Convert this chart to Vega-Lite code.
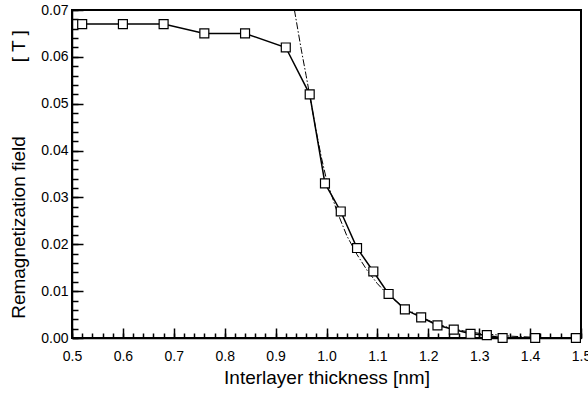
{
  "$schema": "https://vega.github.io/schema/vega-lite/v6.json",
  "width": 509,
  "height": 328,
  "autosize": "none",
  "padding": {"left": 72, "top": 10, "right": 7, "bottom": 55},
  "background": "white",
  "config": {
    "view": {"stroke": "black", "strokeWidth": 2},
    "font": "Liberation Sans",
    "axis": {
      "grid": false,
      "domainColor": "black",
      "domainWidth": 1.5,
      "tickColor": "black",
      "tickWidth": 1.5,
      "labelColor": "black",
      "titleColor": "black",
      "labelFontSize": 14,
      "titleFontSize": 19,
      "titleFontWeight": "normal",
      "labelFlush": false,
      "labelOverlap": false
    }
  },
  "datasets": {
    "pts": [
      {"t": 0.52, "h": 0.067},
      {"t": 0.60, "h": 0.067},
      {"t": 0.68, "h": 0.067},
      {"t": 0.76, "h": 0.065},
      {"t": 0.84, "h": 0.065},
      {"t": 0.92, "h": 0.062},
      {"t": 0.967, "h": 0.052},
      {"t": 0.997, "h": 0.033},
      {"t": 1.028, "h": 0.027},
      {"t": 1.06, "h": 0.0192},
      {"t": 1.092, "h": 0.0142},
      {"t": 1.122, "h": 0.0094},
      {"t": 1.154, "h": 0.0061},
      {"t": 1.186, "h": 0.0044},
      {"t": 1.218, "h": 0.0027},
      {"t": 1.25, "h": 0.0018},
      {"t": 1.283, "h": 0.0009},
      {"t": 1.315, "h": 0.0006},
      {"t": 1.346, "h": 0.0},
      {"t": 1.41, "h": 0.0},
      {"t": 1.49, "h": 0.0}
    ],
    "fit": [
      {"t": 0.937, "h": 0.0700},
      {"t": 0.95, "h": 0.0618},
      {"t": 0.96, "h": 0.0560},
      {"t": 0.97, "h": 0.0500},
      {"t": 0.98, "h": 0.0440},
      {"t": 0.99, "h": 0.0385},
      {"t": 1.00, "h": 0.0338},
      {"t": 1.02, "h": 0.0272},
      {"t": 1.04, "h": 0.0218},
      {"t": 1.06, "h": 0.0178},
      {"t": 1.08, "h": 0.0144},
      {"t": 1.10, "h": 0.0116},
      {"t": 1.12, "h": 0.0093},
      {"t": 1.15, "h": 0.0067},
      {"t": 1.18, "h": 0.0048},
      {"t": 1.21, "h": 0.0033},
      {"t": 1.24, "h": 0.0022},
      {"t": 1.27, "h": 0.0015},
      {"t": 1.30, "h": 0.0010},
      {"t": 1.33, "h": 0.0007},
      {"t": 1.36, "h": 0.0004},
      {"t": 1.40, "h": 0.0002}
    ]
  },
  "resolve": {"axis": {"x": "independent", "y": "independent"}},
  "layer": [
    {
      "data": {"name": "fit"},
      "mark": {"type": "line", "stroke": "black", "strokeWidth": 1, "strokeDash": [7, 2, 1.5, 2], "clip": true},
      "encoding": {
        "x": {
          "field": "t", "type": "quantitative",
          "scale": {"domain": [0.5, 1.5], "nice": false, "zero": false},
          "axis": {
            "orient": "bottom", "title": null, "labels": false, "domain": false,
            "values": [0.5, 0.52, 0.54, 0.56, 0.58, 0.6, 0.62, 0.64, 0.66, 0.68, 0.7, 0.72, 0.74, 0.76, 0.78, 0.8, 0.82, 0.84, 0.86, 0.88, 0.9, 0.92, 0.94, 0.96, 0.98, 1.0, 1.02, 1.04, 1.06, 1.08, 1.1, 1.12, 1.14, 1.16, 1.18, 1.2, 1.22, 1.24, 1.26, 1.28, 1.3, 1.32, 1.34, 1.36, 1.38, 1.4, 1.42, 1.44, 1.46, 1.48, 1.5],
            "tickSize": -5
          }
        },
        "y": {
          "field": "h", "type": "quantitative",
          "scale": {"domain": [0, 0.07], "nice": false},
          "axis": {
            "orient": "left", "title": null, "labels": false, "domain": false,
            "values": [0, 0.002, 0.004, 0.006, 0.008, 0.01, 0.012, 0.014, 0.016, 0.018, 0.02, 0.022, 0.024, 0.026, 0.028, 0.03, 0.032, 0.034, 0.036, 0.038, 0.04, 0.042, 0.044, 0.046, 0.048, 0.05, 0.052, 0.054, 0.056, 0.058, 0.06, 0.062, 0.064, 0.066, 0.068, 0.07],
            "tickSize": -6
          }
        }
      }
    },
    {
      "data": {"name": "pts"},
      "mark": {"type": "line", "stroke": "black", "strokeWidth": 1.5},
      "encoding": {
        "x": {
          "field": "t", "type": "quantitative",
          "axis": {
            "orient": "bottom",
            "title": "Interlayer thickness [nm]",
            "values": [0.5, 0.6, 0.7, 0.8, 0.9, 1.0, 1.1, 1.2, 1.3, 1.4, 1.5],
            "format": ".1f",
            "tickSize": -10,
            "labelPadding": 21,
            "titlePadding": 5
          }
        },
        "y": {
          "field": "h", "type": "quantitative",
          "axis": {
            "orient": "left",
            "title": "Remagnetization field\u00a0\u00a0\u00a0\u00a0\u00a0\u00a0\u00a0\u00a0\u00a0\u00a0\u00a0\u00a0\u00a0\u00a0[ T ]",
            "values": [0, 0.01, 0.02, 0.03, 0.04, 0.05, 0.06, 0.07],
            "format": ".2f",
            "tickSize": -11,
            "labelPadding": 15,
            "titlePadding": 12
          }
        }
      }
    },
    {
      "data": {"name": "pts"},
      "mark": {"type": "point", "shape": "square", "filled": true, "fill": "white", "stroke": "black", "strokeWidth": 1.2, "size": 80, "opacity": 1},
      "encoding": {
        "x": {"field": "t", "type": "quantitative", "axis": null},
        "y": {"field": "h", "type": "quantitative", "axis": null}
      }
    }
  ]
}
